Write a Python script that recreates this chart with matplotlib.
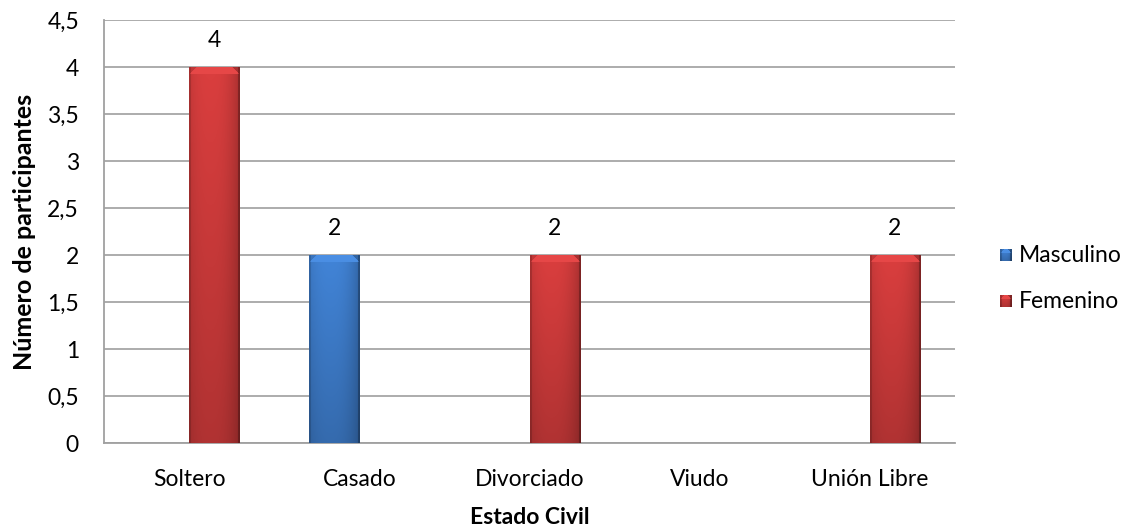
import numpy as np
import matplotlib
matplotlib.use("Agg")
import matplotlib.pyplot as plt
from matplotlib.colors import to_rgb

plt.rcParams['font.family'] = ['Lato', 'DejaVu Sans']

categories = ["Soltero", "Casado", "Divorciado", "Viudo", "Unión Libre"]
masculino = [0, 2, 0, 0, 0]
femenino = [4, 0, 2, 0, 2]
series_names = ["Masculino", "Femenino"]
y_ticks = [0, 0.5, 1, 1.5, 2, 2.5, 3, 3.5, 4, 4.5]
y_tick_labels = ["0", "0,5", "1", "1,5", "2", "2,5", "3", "3,5", "4", "4,5"]

base_colors = {"Masculino": "#3f7fcf", "Femenino": "#d23c3c"}
FS = 16.5

fig = plt.figure(figsize=(11.34, 5.29), dpi=100)
ax = fig.add_axes([104 / 1134, 86 / 529, 851 / 1134, 423 / 529])

ax.set_xlim(-0.5, len(categories) - 0.5)
ax.set_ylim(0, 4.5)
ax.set_yticks(y_ticks)
ax.set_yticklabels(y_tick_labels, fontsize=FS)
ax.set_xticks(range(len(categories)))
ax.set_xticklabels(categories, fontsize=FS)
ax.tick_params(axis='both', length=0)
ax.tick_params(axis='y', pad=18)
ax.tick_params(axis='x', pad=19)
ax.yaxis.grid(True, color="#a6a6a6", linewidth=1.3)
ax.set_axisbelow(True)
for s in ["top", "right"]:
    ax.spines[s].set_visible(False)
for s in ["left", "bottom"]:
    ax.spines[s].set_color("#a0a0a0")
    ax.spines[s].set_linewidth(1.3)

ax.set_ylabel("Número de participantes", fontsize=18, fontweight="bold", labelpad=8)
ax.set_xlabel("Estado Civil", fontsize=FS, fontweight="bold", va="center")
ax.xaxis.set_label_coords(0.5, -0.175)

width = 0.294


def bar_image(color, h_px, w_px=50, bevel=7):
    """Shaded bevelled bar as an RGB array (rows top->bottom)."""
    c = np.array(to_rgb(color))
    ny, nx = max(int(h_px), 2), w_px
    xs = np.linspace(0, 1, nx)
    ys = np.linspace(0, 1, ny)
    # horizontal shading: darker toward both edges
    horiz = 1.0 - 0.22 * (np.abs(xs - 0.42) / 0.58) ** 2.5
    # vertical: lighter near the top, darker at the bottom
    vert = 1.04 - 0.2 * ys
    shade = vert[:, None] * horiz[None, :]
    img = np.clip(c[None, None, :] * shade[:, :, None], 0, 1)
    # bevel along the top edge
    for r in range(min(bevel, ny)):
        inset = bevel - r
        img[r, inset:nx - inset] = np.clip(c * 1.06 + 0.03, 0, 1)
        img[r, :inset] = np.clip(c * 0.92, 0, 1)
        img[r, nx - inset:] = np.clip(c * 0.8, 0, 1)
    # darker side edges
    img[:, :2] *= 0.85
    img[:, -2:] *= 0.75
    return img


px_per_unit = 423 / 4.5
offsets = {"Masculino": -width / 2, "Femenino": width / 2}
for name, vals in zip(series_names, [masculino, femenino]):
    for i, v in enumerate(vals):
        if v <= 0:
            continue
        x0 = i + offsets[name] - width / 2
        img = bar_image(base_colors[name], v * px_per_unit)
        ax.imshow(img, extent=[x0, x0 + width, 0, v], aspect="auto",
                  interpolation="bilinear", zorder=3)
        ax.text(i + offsets[name], v + 0.28, f"{v}", ha="center", va="center",
                fontsize=FS, zorder=4)

ax.set_xlim(-0.5, len(categories) - 0.5)
ax.set_ylim(0, 4.5)

# legend
for k, name in enumerate(series_names):
    yk = 255 + 46 * k
    sq = fig.add_axes([1000 / 1134, (529 - yk - 6) / 529, 12 / 1134, 12 / 529])
    sq.imshow(bar_image(base_colors[name], 12, w_px=12, bevel=4), aspect="auto",
              interpolation="nearest")
    sq.axis("off")
    fig.text(1019 / 1134, (529 - yk) / 529, name, fontsize=FS, va="center", ha="left")

fig.savefig("out.png", dpi=100)
